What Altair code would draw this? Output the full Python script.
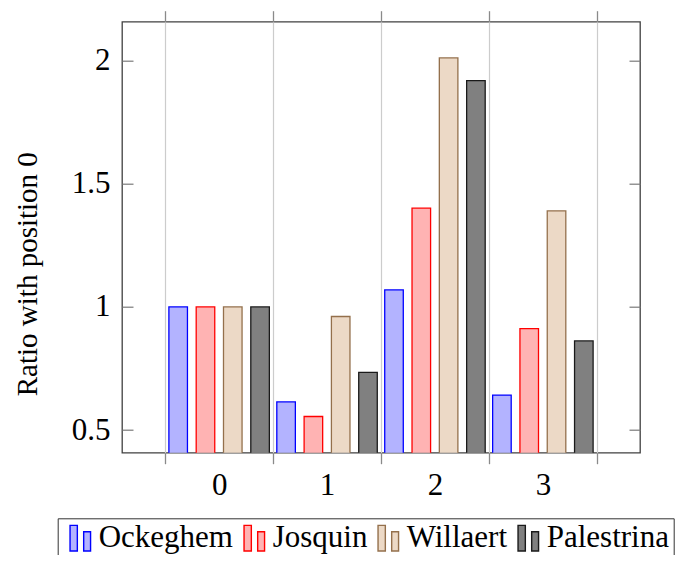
import altair as alt
import pandas as pd

# ---- data ----
positions = [0, 1, 2, 3]
series = ["Ockeghem", "Josquin", "Willaert", "Palestrina"]
ockeghem = [1.0, 0.614, 1.069, 0.642]
josquin = [1.0, 0.555, 1.401, 0.912]
willaert = [1.0, 0.961, 2.011, 1.39]
palestrina = [1.0, 0.734, 1.919, 0.862]
y_ticks = [0.5, 1, 1.5, 2]
x_bounds = [-0.5, 0.5, 1.5, 2.5, 3.5]

fills = ["#b3b3ff", "#ffb3b3", "#ecd9c6", "#808080"]
strokes = ["#0000ff", "#ff0000", "#94704c", "#1a1a1a"]

values = [ockeghem, josquin, willaert, palestrina]
rows = []
for k, (name, vals) in enumerate(zip(series, values)):
    for p, v in zip(positions, vals):
        rows.append({"pos": p, "series": name, "k": k, "value": v})
df = pd.DataFrame(rows)
bnd_df = pd.DataFrame({"b": x_bounds})
yt_df = pd.DataFrame({"v": y_ticks})

FONT = "Liberation Serif"
xscale = alt.Scale(domain=[-0.9, 3.9], nice=False, zero=False)
yscale = alt.Scale(domain=[0.408, 2.158], nice=False, zero=False)

SYM = "M-0.53,-0.95H0.01V0.95H-0.53Z M0.48,-0.48H0.99V0.95H0.48Z"
legend = alt.Legend(
    title=None, orient="none", legendX=-64.3, legendY=496.6,
    direction="horizontal", columns=4,
    symbolType=SYM, symbolSize=729, symbolStrokeWidth=1.4,
    labelFont=FONT, labelFontSize=31, labelColor="black", labelLimit=0,
    labelOffset=6, columnPadding=2, padding=4, strokeColor="#333333",
)

bars = alt.Chart(df).transform_calculate(
    x0="datum.pos + (datum.k - 1.5) * 0.253 - 0.086",
    x1="datum.pos + (datum.k - 1.5) * 0.253 + 0.086",
).mark_bar(clip=True, strokeWidth=1.3).encode(
    x=alt.X("x0:Q", scale=xscale, axis=alt.Axis(
        orient="bottom", values=positions, ticks=False, tickSize=0, grid=False,
        domain=False, labelPadding=17.5, labelFontSize=31, labelFont=FONT,
        labelColor="black", labelFlush=False, labelOverlap=False, format="d",
        title=None)),
    x2="x1:Q",
    y=alt.Y("value:Q", scale=yscale, axis=alt.Axis(
        orient="left", values=y_ticks, ticks=False, tickSize=0, grid=False,
        domain=False, labelPadding=12, labelFontSize=31, labelFont=FONT,
        labelColor="black", labelOverlap=False, format="~g",
        title="Ratio with position 0", titleFont=FONT, titleFontSize=29,
        titleFontWeight="normal", titleColor="black", titleAngle=270,
        titleX=-86, titleY=252, titleAlign="center", titleBaseline="alphabetic")),
    y2=alt.datum(0),
    fill=alt.Fill("series:N", scale=alt.Scale(domain=series, range=fills), legend=legend),
    stroke=alt.Stroke("series:N", scale=alt.Scale(domain=series, range=strokes), legend=legend),
)

grid = alt.Chart(bnd_df).mark_rule(opacity=0).encode(
    x=alt.X("b:Q", scale=xscale, axis=alt.Axis(
        orient="bottom", values=x_bounds, grid=True, gridColor="#cccccc",
        gridWidth=1.2, ticks=True, tickSize=11, tickColor="#8a8a8a", tickWidth=1.3,
        labels=False, domain=False, title=None))
)
top = alt.Chart(bnd_df).mark_rule(opacity=0).encode(
    x=alt.X("b:Q", scale=xscale, axis=alt.Axis(
        orient="top", values=x_bounds, grid=False, ticks=True, tickSize=11,
        tickColor="#8a8a8a", tickWidth=1.3, labels=False, domain=False, title=None))
)
left = alt.Chart(yt_df).mark_rule(opacity=0).encode(
    y=alt.Y("v:Q", scale=yscale, axis=alt.Axis(
        orient="left", offset=-11, values=y_ticks, grid=False, ticks=True,
        tickSize=11, tickColor="#7a7a7a", tickWidth=1.2, labels=False,
        domain=False, title=None))
)
right = alt.Chart(yt_df).mark_rule(opacity=0).encode(
    y=alt.Y("v:Q", scale=yscale, axis=alt.Axis(
        orient="right", offset=-11, values=y_ticks, grid=False, ticks=True,
        tickSize=11, tickColor="#7a7a7a", tickWidth=1.2, labels=False,
        domain=False, title=None))
)

chart = alt.layer(bars, grid, top, left, right).resolve_scale(
    x="shared", y="shared"
).resolve_axis(
    x="independent", y="independent"
).properties(
    width=518, height=431,
    padding={"left": 114, "top": 13.7, "right": 49, "bottom": 102.3},
    autosize=alt.AutoSizeParams(type="none"),
).configure_view(
    stroke="#404040", strokeWidth=1.3
).configure_axis(
    labelFont=FONT, titleFont=FONT
).configure_legend(
    labelFont=FONT
)

chart.save("out.html", embed_options={"renderer": "svg", "actions": False})
